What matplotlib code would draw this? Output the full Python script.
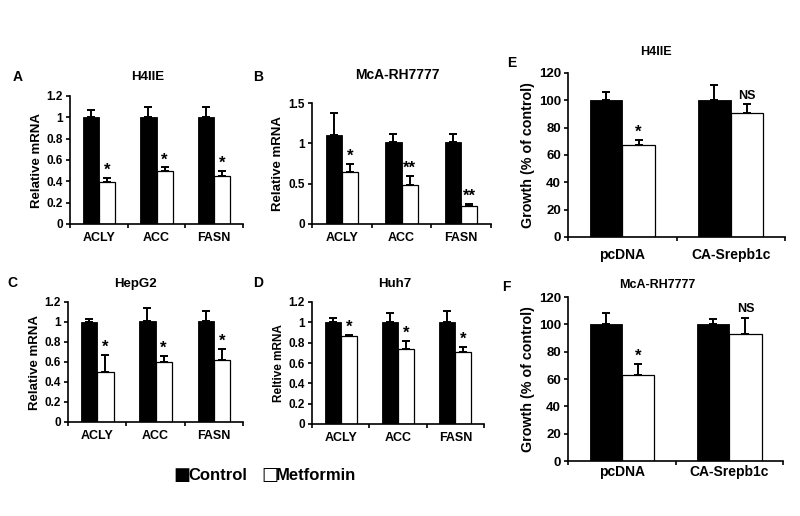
import numpy as np
import matplotlib
matplotlib.use('Agg')
import matplotlib.pyplot as plt

plt.rcParams['font.family'] = ['Liberation Sans', 'DejaVu Sans']
plt.rcParams['font.weight'] = 'bold'

genes = ['ACLY', 'ACC', 'FASN']
constructs = ['pcDNA', 'CA-Srepb1c']

# panel A - H4IIE
a_ctrl = [1.0, 1.0, 1.0]
a_ctrl_err = [0.07, 0.10, 0.10]
a_met = [0.39, 0.50, 0.45]
a_met_err = [0.04, 0.03, 0.05]
a_sig = ['*', '*', '*']

# panel B - McA-RH7777
b_ctrl = [1.10, 1.02, 1.02]
b_ctrl_err = [0.27, 0.10, 0.10]
b_met = [0.65, 0.48, 0.22]
b_met_err = [0.10, 0.12, 0.03]
b_sig = ['*', '**', '**']

# panel C - HepG2
c_ctrl = [1.0, 1.01, 1.01]
c_ctrl_err = [0.03, 0.13, 0.10]
c_met = [0.50, 0.60, 0.62]
c_met_err = [0.17, 0.06, 0.11]
c_sig = ['*', '*', '*']

# panel D - Huh7
d_ctrl = [1.0, 1.0, 1.0]
d_ctrl_err = [0.04, 0.09, 0.11]
d_met = [0.87, 0.74, 0.71]
d_met_err = [0.01, 0.08, 0.05]
d_sig = ['*', '*', '*']

# panel E - growth, H4IIE
e_ctrl = [100, 100]
e_ctrl_err = [6, 11]
e_met = [67, 91]
e_met_err = [4, 6]
e_sig = ['*', 'NS']

# panel F - growth, McA-RH7777
f_ctrl = [100, 100]
f_ctrl_err = [8, 4]
f_met = [63, 93]
f_met_err = [8, 12]
f_sig = ['*', 'NS']

W, H = 800, 516
fig = plt.figure(figsize=(W / 100, H / 100), dpi=100)


def px_axes(left, right, top, bottom):
    # pixel box -> figure fraction
    return fig.add_axes([left / W, 1 - bottom / H, (right - left) / W, (bottom - top) / H])


def panel(ax, cats, ctrl, ctrl_err, met, met_err, sig, ylim, yticks, ytl, ylabel,
          bw, fs_tick, fs_cat, fs_ylab, cat_pad, star_off):
    x = np.arange(len(cats))
    ax.bar(x - bw / 2, ctrl, bw, color='black', edgecolor='black', linewidth=0.6, zorder=2)
    ax.bar(x + bw / 2, met, bw, color='white', edgecolor='black', linewidth=0.9, zorder=2)
    ax.errorbar(x - bw / 2, ctrl, yerr=[np.zeros(len(x)), ctrl_err], fmt='none',
                ecolor='black', elinewidth=1.4, capsize=3, capthick=1.4, zorder=1)
    ax.errorbar(x + bw / 2, met, yerr=[np.zeros(len(x)), met_err], fmt='none',
                ecolor='black', elinewidth=1.4, capsize=3, capthick=1.4, zorder=1)
    for i in range(len(x)):
        if sig[i] == 'NS':
            ax.text(x[i] + bw / 2, met[i] + met_err[i] + star_off, sig[i], ha='center',
                    va='bottom', fontsize=9, fontweight='bold')
        else:
            ax.text(x[i] + bw / 2, met[i] + met_err[i], sig[i], ha='center', va='bottom',
                    fontsize=12, fontweight='bold')
    ax.set_xlim(-0.5, len(cats) - 0.5)
    ax.set_ylim(*ylim)
    ax.set_yticks(yticks)
    ax.set_yticklabels(ytl, fontsize=fs_tick, fontweight='bold')
    ax.set_xticks(x)
    ax.set_xticklabels(cats, fontsize=fs_cat, fontweight='bold')
    ax.tick_params(axis='x', which='major', length=0, pad=cat_pad)
    ax.set_xticks(np.arange(len(cats) + 1) - 0.5, minor=True)
    ax.tick_params(axis='x', which='minor', length=3, width=1.2, direction='out')
    ax.tick_params(axis='y', length=3, width=1.2, direction='out', pad=2)
    for s in ['top', 'right']:
        ax.spines[s].set_visible(False)
    for s in ['left', 'bottom']:
        ax.spines[s].set_linewidth(1.2)
    ax.set_ylabel(ylabel, fontsize=fs_ylab, fontweight='bold', labelpad=3)


r12 = [0, 0.2, 0.4, 0.6, 0.8, 1.0, 1.2]
r12l = ['0', '0.2', '0.4', '0.6', '0.8', '1', '1.2']

axA = px_axes(70, 243, 96, 224)
panel(axA, genes, a_ctrl, a_ctrl_err, a_met, a_met_err, a_sig, (0, 1.2), r12, r12l,
      'Relative mRNA', 0.28, 8.5, 9, 9.5, 6, 0.0)
axB = px_axes(312, 491, 103, 224)
panel(axB, genes, b_ctrl, b_ctrl_err, b_met, b_met_err, b_sig, (0, 1.5), [0, 0.5, 1, 1.5],
      ['0', '0.5', '1', '1.5'], 'Relative mRNA', 0.27, 8.5, 9, 9.5, 6, 0.0)
axC = px_axes(68, 243, 302, 422)
panel(axC, genes, c_ctrl, c_ctrl_err, c_met, c_met_err, c_sig, (0, 1.2), r12, r12l,
      'Relative mRNA', 0.28, 8.5, 9, 9.5, 6, 0.0)
axD = px_axes(312, 484, 302, 424)
panel(axD, genes, d_ctrl, d_ctrl_err, d_met, d_met_err, d_sig, (0, 1.2), r12, r12l,
      'Reltive mRNA', 0.28, 8.5, 9, 8.5, 6, 0.0)
axE = px_axes(568, 785, 73, 237)
panel(axE, constructs, e_ctrl, e_ctrl_err, e_met, e_met_err, e_sig, (0, 120),
      list(range(0, 121, 20)), [str(v) for v in range(0, 121, 20)],
      'Growth (% of control)', 0.30, 9.5, 10, 10.3, 8, 2)
axF = px_axes(568, 783, 297, 461)
panel(axF, constructs, f_ctrl, f_ctrl_err, f_met, f_met_err, f_sig, (0, 120),
      list(range(0, 121, 20)), [str(v) for v in range(0, 121, 20)],
      'Growth (% of control)', 0.30, 9.5, 10, 10.3, 3, 2)

# titles and panel letters
titles = [('H4IIE', 148, 77), ('McA-RH7777', 397, 75), ('HepG2', 135, 284),
          ('Huh7', 395, 284), ('H4IIE', 656, 52), ('McA-RH7777', 657, 285)]
title_fs = [9.5, 10, 9.5, 9.5, 9, 9]
for (txt, x, y), fs in zip(titles, title_fs):
    fig.text(x / W, 1 - y / H, txt, ha='center', va='center', fontsize=fs, fontweight='bold')

letters = [('A', 18, 77), ('B', 258, 77), ('C', 12, 283), ('D', 258, 283),
           ('E', 512, 63), ('F', 506, 287)]
for txt, x, y in letters:
    fig.text(x / W, 1 - y / H, txt, ha='center', va='center', fontsize=10, fontweight='bold')

# legend as plain text: big squares from DejaVu, words in Liberation
legend_items = [('\u25a0', 'Control', 173), ('\u25a1', 'Metformin', 261)]
for mark, word, x in legend_items:
    fig.text(x / W, 1 - 475 / H, mark, ha='left', va='center', fontsize=13,
             family=['DejaVu Sans'])
    fig.text((x + 15) / W, 1 - 475 / H, word, ha='left', va='center', fontsize=12,
             fontweight='bold')

fig.savefig('out.png', dpi=100, facecolor='white')
